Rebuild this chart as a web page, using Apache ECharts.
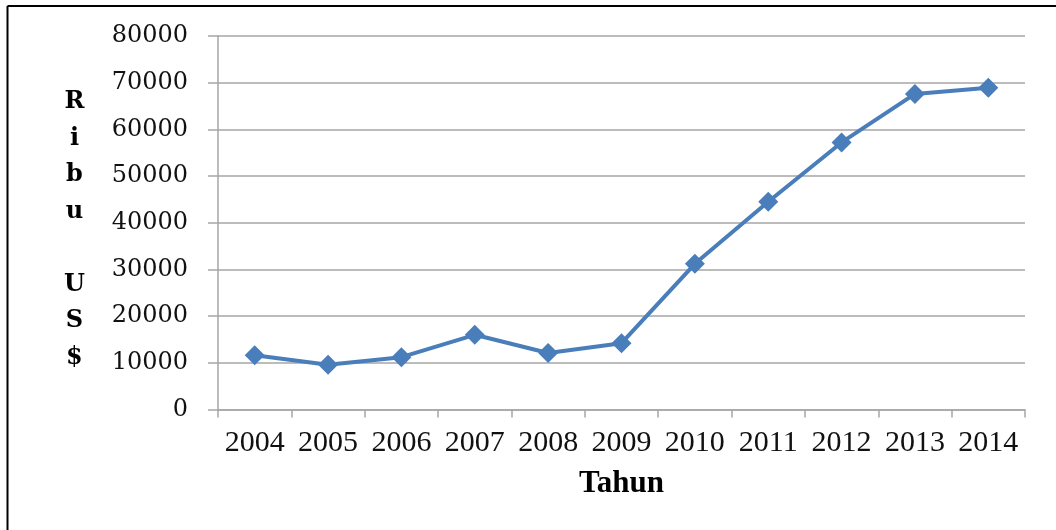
<!DOCTYPE html>
<html>
<head>
<meta charset="utf-8">
<script src="https://cdn.jsdelivr.net/npm/echarts@6/dist/echarts.min.js"></script>
<style>
  html, body { margin: 0; padding: 0; background: #fff; }
  #main { width: 1056px; height: 530px; }
</style>
</head>
<body>
<div id="main"></div>
<script>
// data
var tahun = ['2004', '2005', '2006', '2007', '2008', '2009', '2010', '2011', '2012', '2013', '2014'];
var nilai = [11600, 9600, 11200, 16000, 12100, 14200, 31200, 44500, 57200, 67600, 68900];
var yTitle = 'R\ni\nb\nu\n\nU\nS\n$';

var serif = '"Liberation Serif", "DejaVu Serif", serif';
var wideSerif = '"DejaVu Serif", "Liberation Serif", serif';
var gridColor = '#a6a6a6';

var chart = echarts.init(document.getElementById('main'));

var option = {
  backgroundColor: '#fff',
  animation: false,
  grid: { left: 218, right: 31, top: 36, bottom: 120.5 },
  // frame of the original figure (top and left edges only)
  graphic: [
    { type: 'line', shape: { x1: 7.5, y1: 6, x2: 1056, y2: 6 }, style: { stroke: '#000', lineWidth: 2 } },
    { type: 'line', shape: { x1: 7.5, y1: 6, x2: 7.5, y2: 530 }, style: { stroke: '#000', lineWidth: 2 } },
    {
      type: 'text', left: 64, top: 84,
      style: {
        text: yTitle, font: 'bold 24px ' + wideSerif, fill: '#000',
        textAlign: 'center', lineHeight: 36.5
      }
    }
  ],
  xAxis: {
    type: 'category',
    data: tahun,
    boundaryGap: true,
    name: 'Tahun',
    nameLocation: 'middle',
    nameGap: 59,
    nameTextStyle: { fontFamily: serif, fontSize: 31, fontWeight: 'bold', color: '#000' },
    axisLine: { lineStyle: { color: gridColor, width: 1.5 } },
    axisTick: { show: true, interval: 0, length: 8, lineStyle: { color: gridColor, width: 1.5 } },
    axisLabel: { interval: 0, fontFamily: serif, fontSize: 30, color: '#111', margin: 19, hideOverlap: false },
    splitLine: { show: false }
  },
  yAxis: {
    type: 'value',
    min: 0,
    max: 80000,
    interval: 10000,
    axisLine: { show: true, lineStyle: { color: gridColor, width: 1.5 } },
    axisTick: { show: true, length: 10, lineStyle: { color: gridColor, width: 1.5 } },
    axisLabel: {
      fontFamily: wideSerif, fontSize: 24, color: '#111', margin: 30,
      formatter: function (v) { return String(v); }
    },
    splitLine: { show: true, lineStyle: { color: gridColor, width: 1.5 } }
  },
  series: [
    {
      type: 'line',
      data: nilai,
      symbol: 'diamond',
      symbolSize: 20,
      lineStyle: { color: '#4a7ebb', width: 4 },
      itemStyle: { color: '#4a7ebb' }
    }
  ]
};

chart.setOption(option);
</script>
</body>
</html>
